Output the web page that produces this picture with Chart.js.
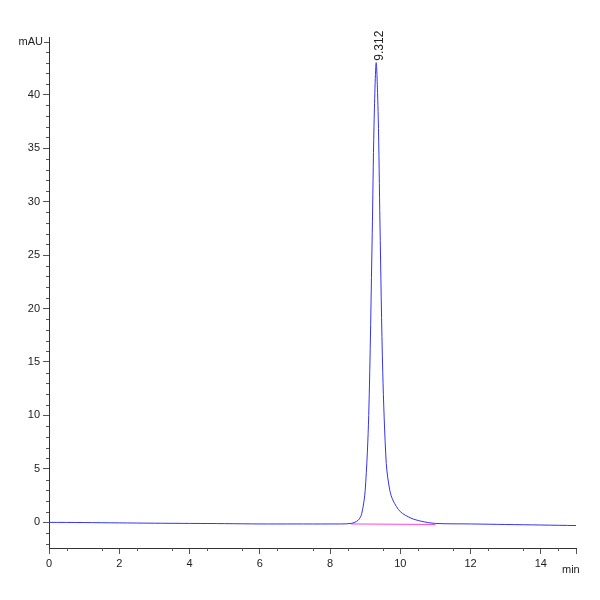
<!DOCTYPE html>
<html><head><meta charset="utf-8">
<script src="https://cdn.jsdelivr.net/npm/chart.js@4"></script>
<style>html,body{margin:0;padding:0;background:#fff}#w{width:600px;height:600px}</style>
</head><body><div id="w"><canvas id="c"></canvas></div>
<script>
const timeMin = [0,1,2,3,4,5,6,7,8,8.6,8.8,8.9,9.0,9.1,9.2,9.25,9.312,9.37,9.42,9.5,9.6,9.7,9.8,10.0,10.3,10.6,11,12,13,14,15];
const signal  = [0,-0.02,-0.05,-0.08,-0.1,-0.12,-0.15,-0.15,-0.15,-0.1,0.2,0.8,3,10,27,37,43,38,28,14,5.5,3,2,1,0.4,0.1,-0.1,-0.15,-0.2,-0.25,-0.3];
const baseTime = [8.6,11.0];
const baseVal = [-0.15,-0.2];
const peakLabel = "9.312";
const peakTime = 9.312, peakVal = 43;

const extras = {
  id:'extras',
  afterDraw(ch){
    const c=ch.ctx, x=ch.scales.x, y=ch.scales.y;
    c.save(); c.strokeStyle='#555'; c.lineWidth=1;
    for(let v=-2; v<=45; v++){ if(v%5===0) continue; const p=Math.round(y.getPixelForValue(v))+0.5; c.beginPath(); c.moveTo(x.left-3,p); c.lineTo(x.left,p); c.stroke(); }
    for(let v=0.5; v<15; v+=1){ const p=Math.round(x.getPixelForValue(v))+0.5; c.beginPath(); c.moveTo(p,y.bottom); c.lineTo(p,y.bottom+3); c.stroke(); }
    c.fillStyle='#222'; c.font='11px "Liberation Sans", Arial';
    c.textAlign='right'; c.textBaseline='middle'; c.fillText('mAU', x.left-6, y.top+5);
    c.beginPath(); c.moveTo(x.left-5,y.top+5.5); c.lineTo(x.left,y.top+5.5); c.stroke();
    c.textAlign='left'; c.textBaseline='top'; c.fillText('min', x.right-14, y.bottom+16);
    const px=x.getPixelForValue(peakTime), py=y.getPixelForValue(peakVal);
    c.translate(px+4, py-2); c.rotate(-Math.PI/2); c.textAlign='left'; c.textBaseline='middle';
    c.font='12px "Liberation Sans", Arial'; c.fillText(peakLabel,0,0);
    c.restore();
  }
};

new Chart(document.getElementById('c'),{
  type:'scatter',
  data:{datasets:[
    {data:timeMin.map((t,i)=>({x:t,y:signal[i]})),showLine:true,borderColor:'#3333ee',borderWidth:1,pointRadius:0,tension:0.3,order:1},
    {data:baseTime.map((t,i)=>({x:t,y:baseVal[i]})),showLine:true,borderColor:'#ff44dd',borderWidth:1,pointRadius:0,order:2}
  ]},
  options:{
    responsive:true,maintainAspectRatio:false,animation:false,
    layout:{padding:{top:37,right:24,left:0,bottom:0}},
    plugins:{legend:{display:false},tooltip:{enabled:false}},
    scales:{
      x:{type:'linear',min:0,max:15,afterFit(s){s.height=52;},
        grid:{drawOnChartArea:false,tickLength:6,color:'#555'},border:{color:'#333'},
        ticks:{stepSize:2,maxRotation:0,color:'#222',font:{size:11,family:'"Liberation Sans", Arial'},callback:v=>v%2===0&&v<15?v:''}},
      y:{type:'linear',min:-2.4,max:45.4,afterFit(s){s.width=49;},
        afterBuildTicks(s){s.ticks=[0,5,10,15,20,25,30,35,40].map(v=>({value:v}));},
        grid:{drawOnChartArea:false,tickLength:6,color:'#555'},border:{color:'#333'},
        ticks:{color:'#222',font:{size:11,family:'"Liberation Sans", Arial'}}}
    }
  },
  plugins:[extras]
});
</script></body></html>
